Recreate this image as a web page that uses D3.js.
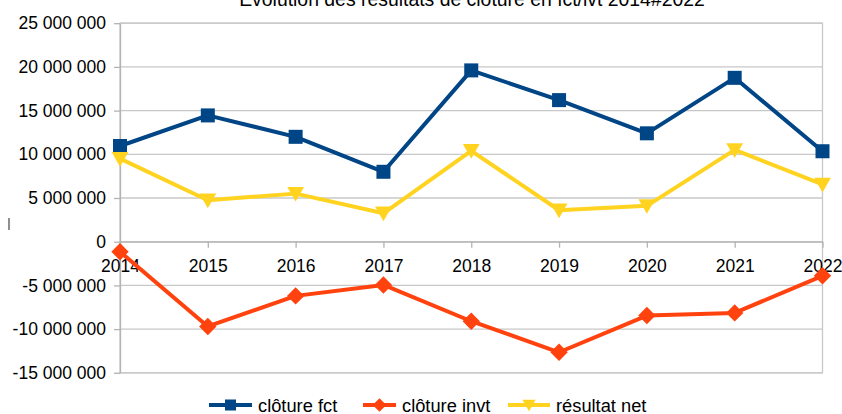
<!DOCTYPE html>
<head>
<meta charset="utf-8">
<style>
    body { margin: 0; background: #fff; }
    text { font-family: "Liberation Sans", Arial, sans-serif; }
</style>
</head>

<body>
    <svg id="container" width="842" height="414"></svg>
</body>

<script src="https://d3js.org/d3.v7.min.js"></script>
<script>

    // chart data
    let years = ["2014","2015","2016","2017","2018","2019","2020","2021","2022"]
    let clotureFct  = [10950000, 14450000, 12000000, 8000000, 19600000, 16200000, 12400000, 18750000, 10350000]
    let clotureInvt = [-1150000, -9700000, -6200000, -4950000, -9100000, -12650000, -8450000, -8150000, -3900000]
    let resultatNet = [9500000, 4750000, 5500000, 3250000, 10400000, 3600000, 4100000, 10500000, 6550000]
    let yTicks = [-15000000, -10000000, -5000000, 0, 5000000, 10000000, 15000000, 20000000, 25000000]
    let title = "Évolution des résultats de clôture en fct/ivt 2014#2022"

    let series = [
        {name: "clôture fct",  values: clotureFct,  color: "#004586", shape: "square"},
        {name: "clôture invt", values: clotureInvt, color: "#ff420e", shape: "diamond"},
        {name: "résultat net", values: resultatNet, color: "#ffd320", shape: "triangle"}
    ]

    let svg = d3.select("#container")
    let plotLeft = 120, plotRight = 822.5, plotTop = 23.2, plotBottom = 372.8

    let x = d3.scalePoint().domain(years).range([plotLeft, plotRight])
    let y = d3.scaleLinear().domain([-15000000, 25000000]).range([plotBottom, plotTop])

    let fmt = d => d3.format(",")(d).replace(/,/g, " ").replace("−", "-")

    // gridlines
    svg.append("g").selectAll("line")
        .data(yTicks)
        .enter()
        .append("line")
        .attr("x1", plotLeft).attr("x2", plotRight)
        .attr("y1", d => y(d)).attr("y2", d => y(d))
        .attr("stroke", "#c8c8c8")
        .attr("stroke-width", 1.3)

    // frame
    svg.append("rect")
        .attr("x", plotLeft).attr("y", plotTop)
        .attr("width", plotRight - plotLeft).attr("height", plotBottom - plotTop)
        .attr("fill", "none")
        .attr("stroke", "#c8c8c8")
        .attr("stroke-width", 1.3)

    // y axis
    let yAxis = svg.append("g")
        .attr("transform", `translate(${plotLeft},0)`)
        .call(d3.axisLeft(y).tickValues(yTicks).tickFormat(fmt).tickSizeOuter(0).tickSizeInner(6).tickPadding(8))
    yAxis.select(".domain").attr("stroke", "#b3b3b3").attr("stroke-width", 1.3)
    yAxis.selectAll(".tick line").attr("stroke", "#b3b3b3").attr("stroke-width", 1.3)
    yAxis.selectAll("text").style("font-size", "17.5px").attr("fill", "#000")

    // x axis at zero
    let xAxis = svg.append("g")
        .attr("transform", `translate(0,${y(0)})`)
        .call(d3.axisBottom(x).tickSizeOuter(0).tickSizeInner(6).tickPadding(12))
    xAxis.select(".domain").attr("stroke", "#b3b3b3").attr("stroke-width", 1.3)
    xAxis.selectAll(".tick line").attr("stroke", "#b3b3b3").attr("stroke-width", 1.3)
    xAxis.selectAll("text").style("font-size", "17.5px").attr("fill", "#000")

    // markers
    function marker(g, shape, color, size) {
        if (shape == "square") {
            g.append("rect").attr("x", -size/2).attr("y", -size/2)
                .attr("width", size).attr("height", size).attr("fill", color)
        } else if (shape == "diamond") {
            let s = size * 0.62
            g.append("path").attr("d", `M0,${-s}L${s},0L0,${s}L${-s},0Z`).attr("fill", color)
        } else {
            let s = size * 0.6
            g.append("path").attr("d", `M${-s},${-s*0.8}L${s},${-s*0.8}L0,${s*0.95}Z`).attr("fill", color)
        }
    }

    let line = d3.line()
        .x((d, i) => x(years[i]))
        .y(d => y(d))

    series.forEach(s => {
        svg.append("path")
            .attr("d", line(s.values))
            .attr("fill", "none")
            .attr("stroke", s.color)
            .attr("stroke-width", 4)
            .attr("stroke-linejoin", "round")
        s.values.forEach((v, i) => {
            let g = svg.append("g").attr("transform", `translate(${x(years[i])},${y(v)})`)
            marker(g, s.shape, s.color, 14)
        })
    })

    // title (cut off at the top, as in the original)
    svg.append("text")
        .attr("x", 472).attr("y", 5.5)
        .attr("text-anchor", "middle")
        .attr("fill", "#000")
        .style("font-size", "19.4px")
        .text(title)

    // stray axis title mark
    svg.append("text")
        .attr("x", 9).attr("y", 227)
        .attr("text-anchor", "middle")
        .style("font-size", "13px")
        .attr("fill", "#333")
        .text("|")

    // legend
    let legendX = [209, 363, 508]
    let lineLen = [43, 33, 42]
    series.forEach((s, i) => {
        let g = svg.append("g").attr("transform", `translate(${legendX[i]},405)`)
        g.append("line").attr("x1", 0).attr("x2", lineLen[i])
            .attr("stroke", s.color).attr("stroke-width", 4)
        let m = g.append("g").attr("transform", `translate(${lineLen[i]/2},0)`)
        marker(m, s.shape, s.color, 11)
        g.append("text")
            .attr("x", lineLen[i] + 6).attr("y", 6.5)
            .attr("fill", "#000")
            .style("font-size", "18.3px")
            .text(s.name)
    })

</script>
